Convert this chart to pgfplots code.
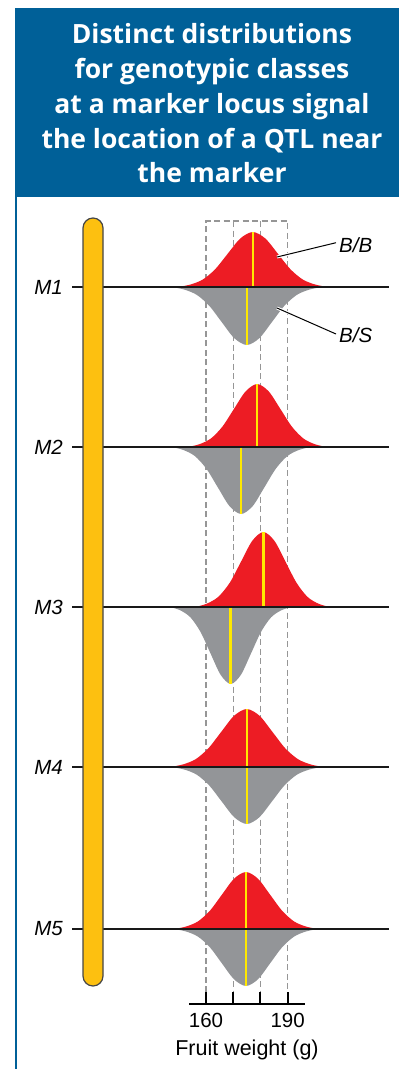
\documentclass[border=0pt]{standalone}
\usepackage{pgfplots}
\pgfplotsset{compat=1.18}
\usepackage{fontspec}
\setmainfont{Liberation Sans}
\newfontfamily\titlefont{Open Sans}
\definecolor{tblue}{RGB}{0,96,152}
\definecolor{chrom}{RGB}{253,192,16}
\definecolor{chromline}{RGB}{70,70,70}
\definecolor{bbred}{RGB}{237,28,36}
\definecolor{bsgray}{RGB}{147,149,152}
\definecolor{ylw}{RGB}{255,232,0}
\definecolor{dashg}{RGB}{150,150,150}
\newcommand\X[1]{\fpeval{84.26+(#1)/2.72}}
\tikzset{tl/.style={anchor=base, inner sep=0, text=white, font=\titlefont\bfseries\fontsize{26.5}{30}\selectfont},
  ml/.style={anchor=east, inner sep=0, font=\itshape\fontsize{20.5}{24}\selectfont},
  mline/.style={black!90, line width=2.8pt},
  dsh/.style={dashg, dash pattern=on 6pt off 3.5pt, line width=1.2pt},
  mean/.style={ylw, line width=2.6pt}}
\begin{document}
\begin{tikzpicture}
\begin{axis}[name=main, at={(0pt,0pt)}, anchor=south west, scale only axis, width=399pt, height=1069pt,
  xmin=84.26, xmax=230.95, ymin=0, ymax=1069, y dir=reverse, hide axis, clip=false]
\path (axis cs:84.26,0) rectangle (axis cs:230.95,1069);
% title box
\fill[tblue] (axis cs:\X{15},8) rectangle (axis cs:230.95,197);
\fill[tblue] (axis cs:\X{15},197) rectangle (axis cs:\X{17.2},1069);
\node[tl] at (axis cs:\X{212},43) {Distinct distributions};
\node[tl] at (axis cs:\X{212},78) {for genotypic classes};
\node[tl] at (axis cs:\X{212},113) {at a marker locus signal};
\node[tl] at (axis cs:\X{212},148) {the location of a QTL near};
\node[tl] at (axis cs:\X{212},182) {the marker};
% dashed guides
\draw[dsh] (axis cs:160,992) -- (axis cs:160,221) -- (axis cs:190,221) -- (axis cs:190,992);
\draw[dsh] (axis cs:170,221) -- (axis cs:170,992);
\draw[dsh] (axis cs:180,221) -- (axis cs:180,992);
% M1
\addplot[fill=bbred, draw=none, smooth] coordinates {(149.6,287) (154.2,284.59) (158.8,279.56) (163.4,269.14) (168.0,253.64) (172.6,238.46) (177.2,232) (181.8,238.46) (186.4,253.64) (191.0,269.14) (195.6,279.56) (200.2,284.59) (204.8,287)};
\addplot[fill=bsgray, draw=none, smooth] coordinates {(147.4,287) (152.0,289.55) (156.6,294.85) (161.2,305.83) (165.8,322.18) (170.4,338.19) (175.0,345) (179.6,338.19) (184.2,322.18) (188.8,305.83) (193.4,294.85) (198.0,289.55) (202.6,287)};
% M2
\addplot[fill=bbred, draw=none, smooth] coordinates {(153.3,447) (157.55,444.23) (161.8,438.48) (166.05,426.54) (170.3,408.79) (174.55,391.40) (178.8,384) (183.05,391.40) (187.3,408.79) (191.55,426.54) (195.8,438.48) (200.05,444.23) (204.3,447)};
\addplot[fill=bsgray, draw=none, smooth] coordinates {(147.4,447) (151.65,449.94) (155.9,456.07) (160.15,468.75) (164.4,487.64) (168.65,506.13) (172.9,514) (177.15,506.13) (181.4,487.64) (185.65,468.75) (189.9,456.07) (194.15,449.94) (198.4,447)};
% M3
\addplot[fill=bbred, draw=none, smooth] coordinates {(156.0,607) (160.25,603.71) (164.5,596.85) (168.75,582.65) (172.9,561.51) (177.0,540.81) (181.1,532) (185.15,540.81) (189.2,561.51) (193.25,582.65) (197.3,596.85) (201.35,603.71) (205.4,607)};
\addplot[fill=bsgray, draw=none, smooth] coordinates {(146.9,607) (150.6,610.38) (154.3,617.42) (158.0,632.00) (161.7,653.70) (165.4,674.95) (169.1,684) (172.8,674.95) (176.5,653.70) (180.2,632.00) (183.9,617.42) (187.6,610.38) (191.3,607)};
% M4
\addplot[fill=bbred, draw=none, smooth] coordinates {(146.8,767) (151.5,764.45) (156.2,759.15) (160.9,748.17) (165.6,731.82) (170.3,715.81) (175.0,709) (179.7,715.81) (184.4,731.82) (189.1,748.17) (193.8,759.15) (198.5,764.45) (203.2,767)};
\addplot[fill=bsgray, draw=none, smooth] coordinates {(147.4,767) (152.0,769.50) (156.6,774.71) (161.2,785.51) (165.8,801.57) (170.4,817.30) (175.0,824) (179.6,817.30) (184.2,801.57) (188.8,785.51) (193.4,774.71) (198.0,769.50) (202.6,767)};
% M5
\addplot[fill=bbred, draw=none, smooth] coordinates {(148.3,929) (152.7,926.50) (157.1,921.29) (161.5,910.49) (165.9,894.43) (170.3,878.70) (174.7,872) (179.1,878.70) (183.5,894.43) (187.9,910.49) (192.3,921.29) (196.7,926.50) (201.1,929)};
\addplot[fill=bsgray, draw=none, smooth] coordinates {(148.3,929) (152.7,931.50) (157.1,936.71) (161.5,947.51) (165.9,963.57) (170.3,979.30) (174.7,986) (179.1,979.30) (183.5,963.57) (187.9,947.51) (192.3,936.71) (196.7,931.50) (201.1,929)};
% means
\addplot[mean] coordinates {(177.2,287) (177.2,232)};
\addplot[mean] coordinates {(175.0,287) (175.0,345)};
\addplot[mean] coordinates {(178.8,447) (178.8,384)};
\addplot[mean] coordinates {(172.9,447) (172.9,514)};
\addplot[mean] coordinates {(181.1,607) (181.1,532)};
\addplot[mean] coordinates {(169.1,607) (169.1,684)};
\addplot[mean] coordinates {(175.0,767) (175.0,709)};
\addplot[mean] coordinates {(175.0,767) (175.0,824)};
\addplot[mean] coordinates {(174.7,929) (174.7,872)};
\addplot[mean] coordinates {(174.7,929) (174.7,986)};
% marker lines and labels
\draw[mline] (axis cs:\X{72},287) -- (axis cs:\X{389},287);
\draw[mline] (axis cs:\X{72},447) -- (axis cs:\X{389},447);
\draw[mline] (axis cs:\X{72},607) -- (axis cs:\X{389},607);
\draw[mline] (axis cs:\X{72},767) -- (axis cs:\X{389},767);
\draw[mline] (axis cs:\X{72},929) -- (axis cs:\X{389},929);
\node[ml] at (axis cs:\X{63},287) {M1};
\node[ml] at (axis cs:\X{63},447) {M2};
\node[ml] at (axis cs:\X{63},607) {M3};
\node[ml] at (axis cs:\X{63},767) {M4};
\node[ml] at (axis cs:\X{63},929) {M5};
% chromosome
\draw[fill=chrom, draw=chromline, line width=1.2pt, rounded corners=10pt] (axis cs:\X{83},218) rectangle (axis cs:\X{103},986);
% leader labels
\draw[white, line width=3pt] (axis cs:\X{277},257) -- (axis cs:\X{300},251.4);
\draw[black, line width=1pt] (axis cs:\X{277},257) -- (axis cs:\X{336},242.7);
\draw[white, line width=3pt] (axis cs:\X{277},308) -- (axis cs:\X{300},318.1);
\draw[black, line width=1pt] (axis cs:\X{277},308) -- (axis cs:\X{336},334);
\node[anchor=west, inner sep=0, font=\itshape\fontsize{20.5}{24}\selectfont] at (axis cs:\X{339},245) {B/B};
\node[anchor=west, inner sep=0, font=\itshape\fontsize{20.5}{24}\selectfont] at (axis cs:\X{339},335) {B/S};
\end{axis}
\begin{axis}[at={(189pt,65pt)}, anchor=south west, scale only axis, width=116pt, height=20pt,
  xmin=153.75, xmax=196.39, ymin=0, ymax=1,
  axis x line=bottom, axis y line=none,
  x axis line style={-, line width=2pt, black},
  xtick={160,170,180,190}, xticklabels={160,,,190},
  xtick align=inside, major tick length=12pt,
  tick style={line width=2pt, black},
  /pgf/number format/assume math mode=true,
  ticklabel style={font=\fontsize{20.5}{24}\selectfont, yshift=-6pt},
  xlabel={Fruit weight (g)},
  xlabel style={font=\fontsize{21.5}{24}\selectfont, yshift=-5pt}]
\addplot[draw=none] coordinates {(170,0.5)};
\end{axis}
\end{tikzpicture}
\end{document}
